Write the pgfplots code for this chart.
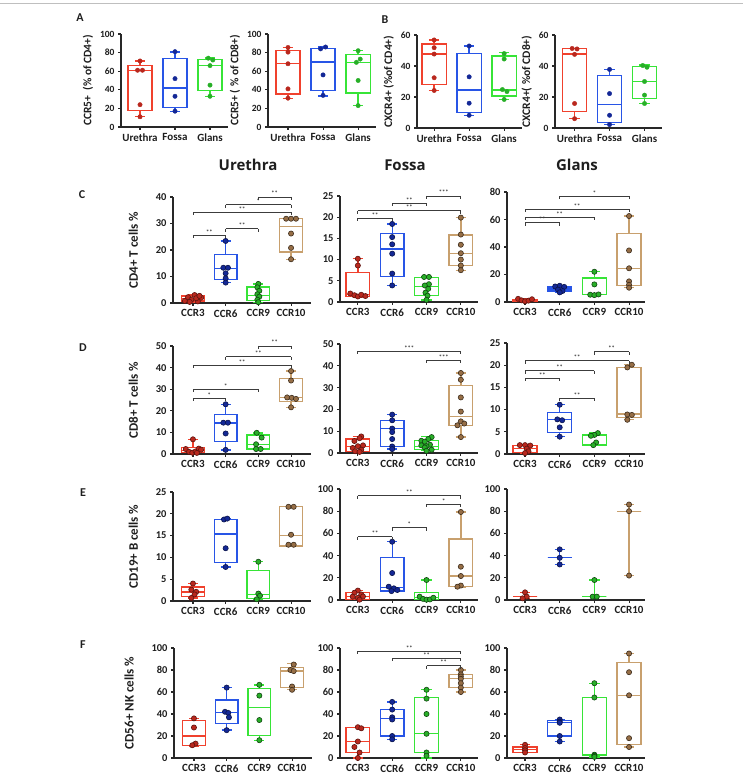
\documentclass[border=0pt]{standalone}
\usepackage{fontspec}
\setmainfont{Carlito}
\newfontfamily\hfont{Open Sans}
\usepackage{pgfplots}
\pgfplotsset{compat=1.18}
\usepgfplotslibrary{statistics}

\definecolor{axc}{RGB}{40,40,40}
\definecolor{txc}{RGB}{30,30,30}
\definecolor{rbox}{RGB}{240,65,45}
\definecolor{rdot}{RGB}{185,40,30}
\definecolor{bbox}{RGB}{40,85,230}
\definecolor{bdot}{RGB}{20,40,150}
\definecolor{gbox}{RGB}{55,228,55}
\definecolor{gdot}{RGB}{40,175,40}
\definecolor{nbox}{RGB}{200,160,110}
\definecolor{ndot}{RGB}{150,110,70}
\definecolor{sigc}{RGB}{60,60,60}

\pgfdeclareplotmark{dtick}{\pgfpathmoveto{\pgfpointorigin}\pgfpathlineto{\pgfpoint{0pt}{-3pt}}\pgfusepathqstroke}

\pgfplotsset{
  base/.style={scale only axis, anchor=south west, axis lines*=left, clip=false, ymin=0,
    tick align=outside, major tick length=3pt,
    axis line style={line width=1.2pt, draw=axc},
    major tick style={line width=1.1pt, draw=axc},
    /pgf/number format/assume math mode=true,
    yticklabel style={font=\bfseries\fontsize{10.5}{11}\selectfont, text=txc},
    xticklabel style={font=\bfseries\fontsize{11}{12}\selectfont, text=txc},
    ylabel style={font=\bfseries\fontsize{13}{14}\selectfont, text=txc}},
  ab/.style={base, xtick={0,1,2}, xticklabels={Urethra,Fossa,Glans}, height=93pt,
    yticklabel style={font=\bfseries\fontsize{9.5}{10}\selectfont},
    xticklabel style={font=\bfseries\fontsize{11}{12}\selectfont},
    ylabel style={font=\bfseries\fontsize{11.5}{12}\selectfont}},
  cf/.style={base, xtick={0,1,2,3}, xticklabels={CCR3,CCR6,CCR9,CCR10}, width=138pt},
  cU/.style={cf, xmin=-0.61, xmax=3.61, ylabel shift=11pt},
  cF/.style={cf, xmin=-0.52, xmax=3.5},
  cG/.style={cf, xmin=-0.52, xmax=3.46},
  pr/.style={only marks, mark=*, mark size=2.6pt, mark options={fill=rdot, draw=rdot!50!black, line width=0.6pt}},
  pb/.style={only marks, mark=*, mark size=2.6pt, mark options={fill=bdot, draw=bdot!50!black, line width=0.6pt}},
  pg/.style={only marks, mark=*, mark size=2.6pt, mark options={fill=gdot, draw=gdot!40!black, line width=0.6pt}},
  pn/.style={only marks, mark=*, mark size=2.6pt, mark options={fill=ndot, draw=ndot!40!black, line width=0.6pt}},
  sr/.style={only marks, mark=*, mark size=2.2pt, mark options={fill=rdot, draw=rdot}},
  sb/.style={only marks, mark=*, mark size=2.2pt, mark options={fill=bdot, draw=bdot}},
  sg/.style={only marks, mark=*, mark size=2.2pt, mark options={fill=gdot, draw=gdot}},
}

\newcommand{\bx}[7]{\addplot[draw=#7, line width=1.35pt, solid, mark=none, boxplot/draw direction=y, boxplot prepared={draw position=#1, lower whisker=#2, lower quartile=#3, median=#4, upper quartile=#5, upper whisker=#6, box extend=0.69, whisker extend=0.3}] coordinates {};}
\newcommand{\sig}[4]{\addplot[color=sigc, line width=0.9pt, mark=dtick, mark options={solid}] coordinates {(#1,#3) (#2,#3)};
  \node[font=\bfseries\fontsize{6.5}{6.5}\selectfont, text=sigc, above, inner sep=0.8pt] at (axis cs:{(#1+#2)/2},#3) {#4};}

\begin{document}
\begin{tikzpicture}
\path[use as bounding box] (0,0) rectangle (743pt,775pt);
\draw[black!25, line width=1pt] (0,771pt) -- (743pt,771pt);

% panel letters and headers
\node[font=\bfseries\fontsize{12}{12}\selectfont, text=txc] at (80pt,757pt) {A};
\node[font=\bfseries\fontsize{12}{12}\selectfont, text=txc] at (385pt,755pt) {B};
\node[font=\bfseries\fontsize{12}{12}\selectfont, text=txc] at (82pt,580pt) {C};
\node[font=\bfseries\fontsize{12}{12}\selectfont, text=txc] at (83pt,427pt) {D};
\node[font=\bfseries\fontsize{12}{12}\selectfont, text=txc] at (83pt,282pt) {E};
\node[font=\bfseries\fontsize{12}{12}\selectfont, text=txc] at (83pt,130pt) {F};
\node[font=\hfont\bfseries\fontsize{15}{15}\selectfont, text=txc] at (248pt,610pt) {Urethra};
\node[font=\hfont\bfseries\fontsize{15}{15}\selectfont, text=txc] at (405pt,610pt) {Fossa};
\node[font=\hfont\bfseries\fontsize{15}{15}\selectfont, text=txc] at (577pt,610pt) {Glans};

% ---------------- A1
\begin{axis}[ab, at={(121pt,648pt)}, width=107pt, xmin=-0.543, xmax=2.514, ymax=100, ytick={0,20,40,60,80,100}, ylabel={CCR5+\ \ (\% of CD4+)}]
\bx{0}{11}{17.5}{61}{66}{71}{rbox}
\bx{1}{17}{21}{42}{73.5}{80.6}{bbox}
\bx{2}{33}{39.4}{66}{72.4}{74}{gbox}
\addplot[sr] coordinates {(0,71) (-0.07,61) (0.07,61) (0,24) (0,11)};
\addplot[sb] coordinates {(1,81) (1,52) (1,33) (1,17)};
\addplot[sg] coordinates {(1.95,74) (2.08,72) (2,66) (2,45) (2,33)};
\end{axis}
% ---------------- A2
\begin{axis}[ab, at={(268pt,648pt)}, width=108pt, xmin=-0.57, xmax=2.51, ymax=100, ytick={0,20,40,60,80,100}, ylabel={CCR5+ ( \% of CD8+)}]
\bx{0}{30.5}{35.5}{68}{82.4}{85.7}{rbox}
\bx{1}{33.5}{39.4}{70}{84.5}{86}{bbox}
\bx{2}{23}{36.6}{69.5}{77.8}{82.4}{gbox}
\addplot[sr] coordinates {(0,85.5) (0,80.5) (0,68) (0,41) (0,31)};
\addplot[sb] coordinates {(0.93,84) (1.07,86) (1,56) (1,34)};
\addplot[sg] coordinates {(2,82) (2.06,73) (1.95,69.5) (2,50) (2,23)};
\end{axis}
% ---------------- B1
\begin{axis}[ab, at={(417pt,647pt)}, width=105pt, xmin=-0.49, xmax=2.51, ymax=60, ytick={0,20,40,60}, ylabel={CXCR4+ (\%of CD4+)}]
\bx{0}{24.2}{28}{47.7}{54.2}{56.8}{rbox}
\bx{1}{8.2}{9.9}{24.4}{48.2}{52.9}{bbox}
\bx{2}{18.4}{20.7}{24.4}{46.4}{48.6}{gbox}
\addplot[sr] coordinates {(0,56.8) (0,51.8) (0,47.7) (0,32.4) (0,24.2)};
\addplot[sb] coordinates {(1,52.9) (1,33) (1,16) (1,8.2)};
\addplot[sg] coordinates {(2,48) (2,44.5) (1.95,24.8) (2.08,23.5) (2,18.4)};
\end{axis}
% ---------------- B2
\begin{axis}[ab, at={(555pt,647pt)}, width=107pt, xmin=-0.56, xmax=2.5, ymax=60, ytick={0,20,40,60}, ylabel={CXCR4+( \%of CD8+)}]
\bx{0}{6}{10.8}{47.7}{51.2}{51.4}{rbox}
\bx{1}{2.2}{3.5}{15.1}{33.7}{37.8}{bbox}
\bx{2}{15.8}{19}{30.2}{39.7}{40.6}{gbox}
\addplot[sr] coordinates {(-0.07,51.3) (0.07,51) (0,47.5) (0,15.8) (0,6)};
\addplot[sb] coordinates {(1,37.8) (1,22.2) (1,8.2) (1,2.2)};
\addplot[sg] coordinates {(1.95,40.3) (2.07,39.2) (2,30) (2,21.2) (2,15.8)};
\end{axis}

% ================= C
\begin{axis}[cU, at={(173pt,472pt)}, height=106pt, ymax=40, ytick={0,10,20,30,40}, ylabel={CD4+ T cells \%}]
\bx{0}{0.4}{0.8}{1.6}{2.6}{3.3}{rbox}
\bx{1}{7.7}{8.8}{13.1}{18.2}{23.4}{bbox}
\bx{2}{0.3}{1.0}{2.9}{6.0}{7.2}{gbox}
\bx{3}{16.5}{19.2}{28.9}{31.8}{31.8}{nbox}
\addplot[pr] coordinates {(-0.25,0.8) (-0.15,2.2) (-0.05,1.2) (0.05,3.0) (0.15,0.6) (0.25,2.0) (-0.1,0.4) (0.1,1.8) (0.2,2.7)};
\addplot[pb] coordinates {(1,23.4) (0.93,13.3) (1.07,13.3) (1,11.2) (1,9.3) (1,7.7)};
\addplot[pg] coordinates {(2,7.2) (1.97,5.9) (2.03,4.6) (1.97,3.3) (2.03,2.4) (1.97,1.2) (2,0.3)};
\addplot[pn] coordinates {(2.85,31.8) (3,31.8) (3.15,31.8) (3,26.2) (3,20.8) (3,16.5)};
\sig{0}{1}{25.5}{**}
\sig{1}{2}{28}{**}
\sig{0}{3}{34.2}{**}
\sig{1}{3}{37.1}{*}
\sig{2}{3}{40}{**}
\end{axis}
\begin{axis}[cF, at={(340pt,473pt)}, height=106pt, ymax=25, ytick={0,5,10,15,20,25}]
\bx{0}{1.2}{1.3}{1.7}{7.0}{10.2}{rbox}
\bx{1}{3.9}{6.0}{12.5}{16.2}{18.4}{bbox}
\bx{2}{0.5}{1.5}{3.7}{5.7}{5.9}{gbox}
\bx{3}{7.4}{8.6}{11.5}{15.8}{19.9}{nbox}
\addplot[pr] coordinates {(0,10.2) (0,8.6) (-0.22,2.0) (-0.1,1.6) (0,1.3) (0.1,1.7) (0.22,1.4)};
\addplot[pb] coordinates {(1,18.4) (1,15.3) (1,13.6) (1,11.4) (1,6.7) (1,3.9)};
\addplot[pg] coordinates {(1.93,5.9) (2.07,5.9) (2.07,4.2) (1.95,3.9) (2.05,3.1) (1.97,2.2) (2.03,1.5) (2,0.5)};
\addplot[pn] coordinates {(3,19.9) (3,15.9) (3,13.5) (3,11.5) (3,10) (3,8.6) (3,7.5)};
\sig{0}{1}{19.7}{**}
\sig{0}{3}{21.5}{**}
\sig{1}{2}{23.3}{**}
\sig{2}{3}{25}{***}
\end{axis}
\begin{axis}[cG, at={(507pt,473pt)}, height=110pt, ymax=80, ytick={0,20,40,60,80}]
\bx{0}{0.3}{0.5}{1.0}{1.8}{2.5}{rbox}
\bx{1}{7}{8}{9.5}{11}{12}{bbox}
\bx{2}{5}{5.3}{5.5}{17.5}{22}{gbox}
\bx{3}{10.4}{12.1}{24.2}{49.7}{62.5}{nbox}
\addplot[pr] coordinates {(-0.2,2.3) (-0.1,1.2) (0,0.5) (0.1,1.0) (0.2,2.0)};
\addplot[pb] coordinates {(0.87,11.3) (1,11.8) (1.13,11) (0.95,9) (1.08,8) (1,7)};
\addplot[pg] coordinates {(2,22) (2,12.8) (1.88,5.3) (2,5) (2.12,5.5)};
\addplot[pn] coordinates {(3,62.5) (3,37.5) (3,24.5) (3,15) (3,12.5) (3,10.4)};
\sig{0}{1}{57.5}{**}
\sig{0}{2}{61.8}{**}
\sig{0}{3}{67.4}{**}
\sig{1}{3}{77}{*}
\end{axis}

% ================= D
\begin{axis}[cU, at={(173pt,321pt)}, height=108pt, ymax=50, ytick={0,10,20,30,40,50}, ylabel={CD8+ T cells \%}]
\bx{0}{0.5}{0.6}{1.5}{2.9}{6.8}{rbox}
\bx{1}{1.9}{5.7}{14.4}{18.4}{23}{bbox}
\bx{2}{2.2}{2.3}{4.5}{8.8}{9.8}{gbox}
\bx{3}{21.6}{24.2}{26.2}{35}{38.4}{nbox}
\addplot[pr] coordinates {(0,6.8) (-0.22,2.3) (-0.12,1.0) (-0.02,0.6) (0.08,1.2) (0.18,2.5) (0.25,2.0) (0.12,0.5)};
\addplot[pb] coordinates {(1,23) (0.93,14.5) (1.07,14.5) (1,9.5) (1,1.9)};
\addplot[pg] coordinates {(1.95,9.8) (2.1,7.6) (1.93,4.5) (1.93,2.3) (2.07,2.3)};
\addplot[pn] coordinates {(3,38.4) (3,34) (2.88,26.2) (3.02,26) (3.15,25.5) (3,21.6)};
\sig{0}{1}{25.8}{*}
\sig{0}{2}{30}{*}
\sig{0}{3}{41.2}{**}
\sig{1}{3}{45}{**}
\sig{2}{3}{50}{**}
\end{axis}
\begin{axis}[cF, at={(340pt,322pt)}, height=109pt, ymax=50, ytick={0,10,20,30,40,50}]
\bx{0}{0.5}{0.8}{3.1}{6.4}{7.6}{rbox}
\bx{1}{1.8}{3.1}{11.2}{14.8}{17.6}{bbox}
\bx{2}{1}{1.5}{3.1}{5.7}{7.6}{gbox}
\bx{3}{7.3}{12.7}{16.8}{31}{36.7}{nbox}
\addplot[pr] coordinates {(0.1,7.6) (0.05,6.8) (-0.1,5.5) (0.15,3.5) (0,3.1) (-0.15,2.3) (0.1,1.5) (-0.08,0.8) (0.05,0.5)};
\addplot[pb] coordinates {(1,17.6) (1,15) (1,11.2) (1,9.6) (1,6.4) (1,3) (1,1.8)};
\addplot[pg] coordinates {(2.15,7.3) (2.05,6.4) (1.85,5.6) (1.95,5.2) (1.85,3.5) (2.1,3.8) (2,3.1) (1.95,2.5) (2.15,1.5) (2,1)};
\addplot[pn] coordinates {(3,36.7) (3,33.6) (3,25.5) (3,19.0) (3,14.5) (2.9,12.7) (3.1,13.5) (3,7.3)};
\sig{2}{3}{42.5}{***}
\sig{0}{3}{46.6}{***}
\end{axis}
\begin{axis}[cG, at={(507pt,321pt)}, height=111pt, ymax=25, ytick={0,5,10,15,20,25}]
\bx{0}{0.2}{0.3}{1.2}{1.9}{2.0}{rbox}
\bx{1}{3.9}{4.9}{7.7}{9.3}{11.1}{bbox}
\bx{2}{2}{2}{4.1}{4.4}{4.7}{gbox}
\bx{3}{7.7}{8.2}{9}{19.5}{20.1}{nbox}
\addplot[pr] coordinates {(-0.15,2) (0,2) (0.15,1.9) (0.05,1.2) (0.1,0.6) (0,0.2)};
\addplot[pb] coordinates {(1,11.1) (0.93,7.8) (1.07,7.6) (1,6) (1,3.9)};
\addplot[pg] coordinates {(2.1,4.7) (2,4.3) (1.9,4.1) (2.05,2.6) (1.97,2)};
\addplot[pn] coordinates {(3.08,20.1) (2.95,19.5) (2.95,8.9) (3.08,8.8) (2.95,7.7)};
\sig{1}{2}{12.6}{**}
\sig{0}{1}{17.1}{**}
\sig{0}{2}{18.8}{**}
\sig{0}{3}{21}{**}
\sig{2}{3}{23}{**}
\end{axis}

% ================= E
\begin{axis}[cU, at={(173pt,174pt)}, height=109pt, ymax=25, ytick={0,5,10,15,20,25}, ylabel={CD19+ B cells \%}]
\bx{0}{0.7}{1.1}{2.1}{3.2}{4.0}{rbox}
\bx{1}{7.8}{8.9}{15.4}{18.7}{18.9}{bbox}
\bx{2}{0.4}{0.5}{1.45}{7.0}{9.0}{gbox}
\bx{3}{12.5}{12.6}{15}{21.6}{21.6}{nbox}
\addplot[pr] coordinates {(0,4) (-0.05,2.6) (0.1,2.1) (0.05,1.5) (-0.05,0.7)};
\addplot[pb] coordinates {(0.95,18.7) (1.05,18.9) (1,12.1) (1,7.8)};
\addplot[pg] coordinates {(2,9) (2,1.7) (2.05,1.2) (1.95,0.4)};
\addplot[pn] coordinates {(2.92,21.6) (3.08,21.6) (3,15.2) (2.92,12.9) (3.08,12.9)};
\end{axis}
\begin{axis}[cF, at={(340pt,175pt)}, height=111pt, ymax=100, ytick={0,20,40,60,80,100}]
\bx{0}{0.3}{0.6}{3}{6.9}{8.5}{rbox}
\bx{1}{8}{8.1}{11.1}{38.1}{52.5}{bbox}
\bx{2}{0}{0.3}{2.1}{6.6}{18}{gbox}
\bx{3}{11.5}{12}{21.6}{55}{79.3}{nbox}
\addplot[pr] coordinates {(0,8.5) (-0.1,6.5) (0.1,5) (-0.15,3) (0.15,3.2) (0,2) (0.05,0.3)};
\addplot[pb] coordinates {(1,52.5) (1,24.3) (0.9,12) (1.05,10.5) (1.15,9) (0.98,8)};
\addplot[pg] coordinates {(2,18) (1.8,3) (1.9,1) (2,0.3) (2.1,0.5) (2.2,2)};
\addplot[pn] coordinates {(3,79.3) (3,30) (3,21.6) (3,13) (2.9,12)};
\sig{0}{1}{57}{**}
\sig{1}{2}{65.2}{*}
\sig{2}{3}{86.2}{*}
\sig{0}{3}{94}{**}
\end{axis}
\begin{axis}[cG, at={(507pt,175pt)}, height=111pt, ymax=100, ytick={0,20,40,60,80,100}]
\bx{0}{1.5}{3}{3}{3}{6.9}{rbox}
\bx{1}{32}{38}{38}{38}{45.6}{bbox}
\bx{2}{3}{3}{3}{3}{18}{gbox}
\bx{3}{22}{80}{80}{80}{86}{nbox}
\addplot[pr] coordinates {(0,6.9) (0.05,3) (-0.07,1.5)};
\addplot[pb] coordinates {(1,45.6) (1,38) (1,32)};
\addplot[pg] coordinates {(2,18) (1.95,3) (2.07,3)};
\addplot[pn] coordinates {(3,86) (3,80) (3,22)};
\end{axis}

% ================= F
\begin{axis}[cU, at={(174pt,17pt)}, height=110pt, ymax=100, ytick={0,20,40,60,80,100}, ylabel={CD56+ NK cells \%}]
\bx{0}{11}{11.6}{20.1}{33.8}{36}{rbox}
\bx{1}{25.3}{31.4}{41.5}{52.7}{64}{bbox}
\bx{2}{16.2}{20.7}{45.7}{63.4}{66.5}{gbox}
\bx{3}{62}{64}{79}{82}{86}{nbox}
\addplot[pr] coordinates {(0,36) (0,27.7) (0.05,13.1) (-0.05,11.6)};
\addplot[pb] coordinates {(1,64) (0.95,42) (1.05,41) (1.07,37) (1,25.3)};
\addplot[pg] coordinates {(2,66.5) (2,56.7) (2,34.5) (2,16.2)};
\addplot[pn] coordinates {(3.05,85) (2.95,80) (3.05,79) (3,65) (3,62)};
\end{axis}
\begin{axis}[cF, at={(340pt,17pt)}, height=110pt, ymax=100, ytick={0,20,40,60,80,100}]
\bx{0}{0}{5}{15}{28}{28}{rbox}
\bx{1}{17}{20}{36}{44}{51}{bbox}
\bx{2}{0}{5}{22}{55}{62}{gbox}
\bx{3}{60}{64}{72}{76}{80}{nbox}
\addplot[pr] coordinates {(0,28) (0.1,27) (0,15) (-0.1,10) (0.05,5) (0,0)};
\addplot[pb] coordinates {(1,51) (1,44) (1,37) (1,35) (1,20) (1,17)};
\addplot[pg] coordinates {(2,62) (2,54) (2,40) (2,22) (2,5) (2,2)};
\addplot[pn] coordinates {(3,80) (3,76) (3,74) (3,72) (3,68) (3,64) (3,60)};
\sig{2}{3}{84}{**}
\sig{1}{3}{90.5}{**}
\sig{0}{3}{97}{**}
\end{axis}
\begin{axis}[cG, at={(507pt,17pt)}, height=110pt, ymax=100, ytick={0,20,40,60,80,100}]
\bx{0}{5}{5}{8}{10}{12}{rbox}
\bx{1}{15}{20}{32}{34}{35}{bbox}
\bx{2}{1}{2}{3}{55}{68}{gbox}
\bx{3}{10}{12}{57}{87}{95}{nbox}
\addplot[pr] coordinates {(0,12) (0,9) (0,7) (0,5)};
\addplot[pb] coordinates {(1,35) (1,33) (1,32) (1,20) (1,15)};
\addplot[pg] coordinates {(2,68) (2,55) (2,3) (2,2) (2,1)};
\addplot[pn] coordinates {(3,95) (3,78) (3,57) (3,18) (3,10)};
\end{axis}
\end{tikzpicture}
\end{document}
